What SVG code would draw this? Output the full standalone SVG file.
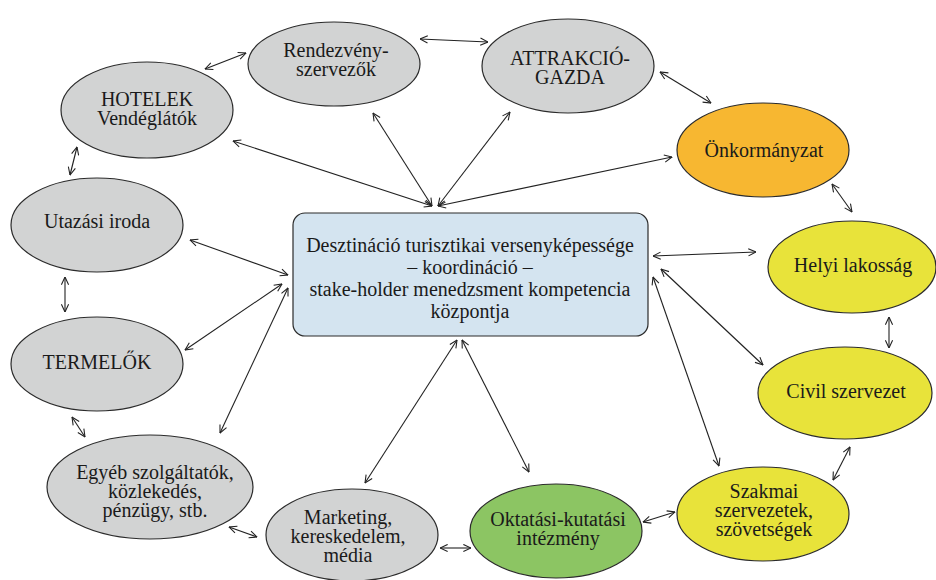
<svg xmlns="http://www.w3.org/2000/svg" width="936" height="580" viewBox="0 0 936 580">
<style>
.n{stroke:#2b2b2b;stroke-width:1.2}
.g{fill:#d2d3d3}
.y{fill:#e8e33a}
.o{fill:#f7b731}
.gr{fill:#8cc563}
.b{fill:#d4e4f0}
.t{font-family:'Liberation Serif','Times New Roman',Tinos,'DejaVu Serif',serif;font-size:20px;fill:#1a1a1a;text-anchor:middle}
.c line{stroke:#222;stroke-width:1.1;marker-start:url(#a);marker-end:url(#a)}
</style>
<defs>
<marker id="a" viewBox="0 0 10 10" refX="9.5" refY="5" markerWidth="9" markerHeight="9" markerUnits="userSpaceOnUse" orient="auto-start-reverse">
<path d="M1,1 L9.5,5 L1,9" fill="none" stroke="#222" stroke-width="1.2"/>
</marker>
</defs>
<rect width="936" height="580" fill="#fff"/>
<g id="connectors" class="c">
<line x1="205" y1="69" x2="246" y2="53"/>
<line x1="420" y1="39" x2="488" y2="42"/>
<line x1="660" y1="72" x2="711" y2="103"/>
<line x1="832" y1="184" x2="852" y2="212"/>
<line x1="889" y1="317" x2="889" y2="348"/>
<line x1="850" y1="447" x2="833" y2="480"/>
<line x1="643" y1="522" x2="675" y2="512"/>
<line x1="440" y1="548" x2="471" y2="548"/>
<line x1="229" y1="527" x2="257" y2="537"/>
<line x1="85" y1="437" x2="72" y2="417"/>
<line x1="65" y1="312" x2="65" y2="277"/>
<line x1="70" y1="175" x2="77" y2="147"/>
<line x1="233" y1="141" x2="432" y2="206"/>
<line x1="373" y1="113" x2="432" y2="206"/>
<line x1="510" y1="112" x2="438" y2="206"/>
<line x1="672" y1="157" x2="438" y2="206"/>
<line x1="190" y1="240" x2="288" y2="275"/>
<line x1="185" y1="350" x2="282" y2="284"/>
<line x1="220" y1="433" x2="288" y2="288"/>
<line x1="653" y1="256" x2="756" y2="252"/>
<line x1="661" y1="269" x2="763" y2="365"/>
<line x1="653" y1="277" x2="719" y2="466"/>
<line x1="365" y1="483" x2="457" y2="340"/>
<line x1="529" y1="472" x2="462" y2="340"/>
</g>
<g id="center">
<rect class="n b" x="293" y="213" width="355" height="123" rx="12"/>
<text class="t" x="470" y="252" font-family="Liberation Serif, serif">Desztináció turisztikai versenyképessége</text>
<text class="t" x="470" y="274" font-family="Liberation Serif, serif">– koordináció –</text>
<text class="t" x="470" y="296" font-family="Liberation Serif, serif">stake-holder menedzsment kompetencia</text>
<text class="t" x="470" y="318" font-family="Liberation Serif, serif">központja</text>
</g>
<g id="rendezveny">
<ellipse class="n g" cx="334" cy="64" rx="86" ry="42"/>
<text class="t" x="336" y="57">Rendezvény-</text>
<text class="t" x="336" y="76">szervezők</text>
</g>
<g id="attrakcio">
<ellipse class="n g" cx="568" cy="66" rx="86" ry="47"/>
<text class="t" x="570" y="65">ATTRAKCIÓ-</text>
<text class="t" x="570" y="84">GAZDA</text>
</g>
<g id="hotelek">
<ellipse class="n g" cx="147" cy="110" rx="86" ry="48"/>
<text class="t" x="147" y="106">HOTELEK</text>
<text class="t" x="147" y="125">Vendéglátók</text>
</g>
<g id="onkormanyzat">
<ellipse class="n o" cx="763" cy="150" rx="86" ry="47"/>
<text class="t" x="764" y="157">Önkormányzat</text>
</g>
<g id="utazasi">
<ellipse class="n g" cx="97" cy="225" rx="86" ry="47"/>
<text class="t" x="97" y="228">Utazási iroda</text>
</g>
<g id="helyi">
<ellipse class="n y" cx="852" cy="267" rx="84" ry="46"/>
<text class="t" x="853" y="272">Helyi lakosság</text>
</g>
<g id="termelok">
<ellipse class="n g" cx="97" cy="364" rx="86" ry="47"/>
<text class="t" x="97" y="369">TERMELŐK</text>
</g>
<g id="civil">
<ellipse class="n y" cx="845" cy="393" rx="87" ry="46"/>
<text class="t" x="846" y="398">Civil szervezet</text>
</g>
<g id="egyeb">
<ellipse class="n g" cx="150" cy="487" rx="103" ry="52"/>
<text class="t" x="155" y="479">Egyéb szolgáltatók,</text>
<text class="t" x="155" y="498">közlekedés,</text>
<text class="t" x="155" y="517">pénzügy, stb.</text>
</g>
<g id="szakmai">
<ellipse class="n y" cx="763" cy="514" rx="86" ry="47"/>
<text class="t" x="764" y="498">Szakmai</text>
<text class="t" x="764" y="517">szervezetek,</text>
<text class="t" x="764" y="536">szövetségek</text>
</g>
<g id="marketing">
<ellipse class="n g" cx="352" cy="535" rx="86" ry="46"/>
<text class="t" x="348" y="524">Marketing,</text>
<text class="t" x="348" y="543">kereskedelem,</text>
<text class="t" x="348" y="562">média</text>
</g>
<g id="oktatasi">
<ellipse class="n gr" cx="556" cy="531" rx="86" ry="47"/>
<text class="t" x="558" y="526">Oktatási-kutatási</text>
<text class="t" x="558" y="545">intézmény</text>
</g>
</svg>
